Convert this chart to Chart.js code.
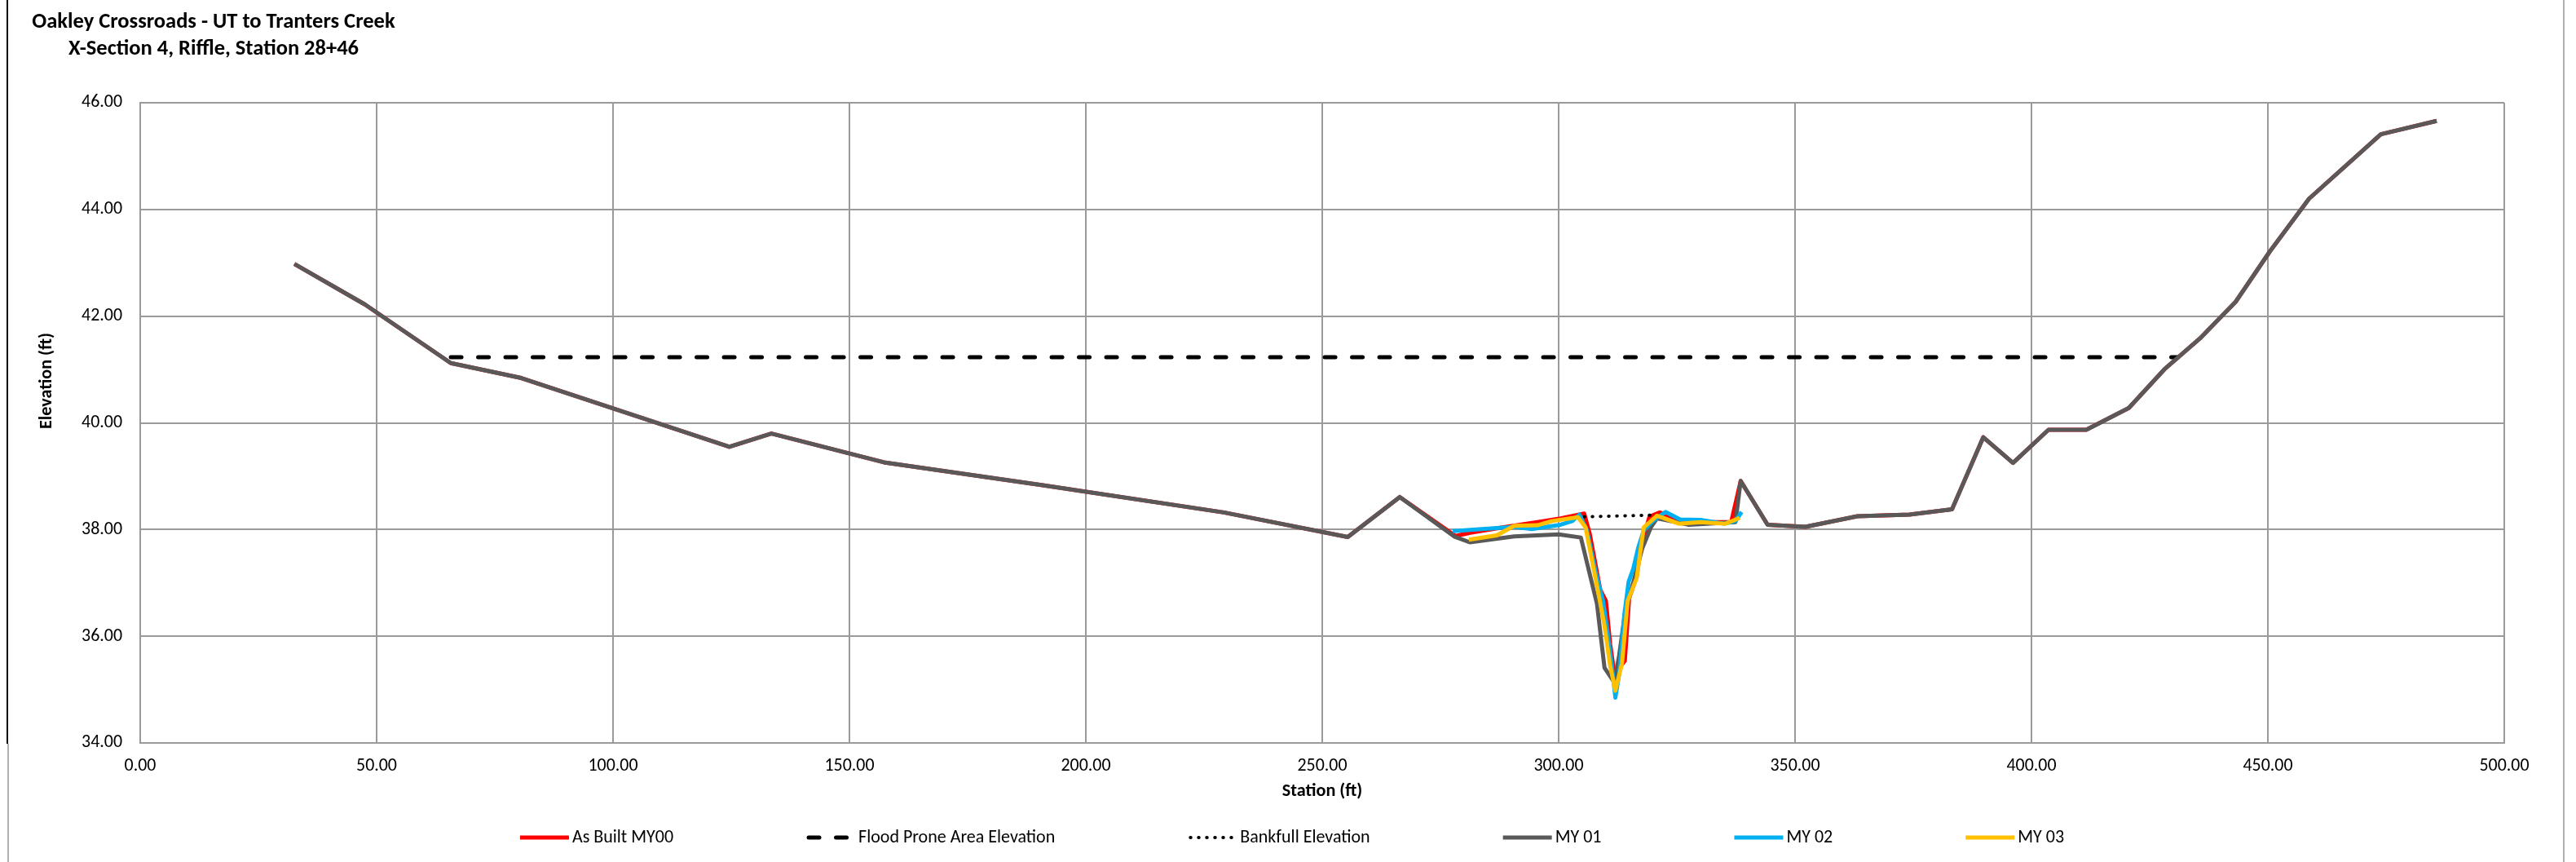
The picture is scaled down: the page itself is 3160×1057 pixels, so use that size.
<!DOCTYPE html>
<html>
<head>
<meta charset="utf-8">
<script src="https://cdn.jsdelivr.net/npm/chart.js@4.4.1/dist/chart.umd.min.js"></script>
<style>
  html, body { margin: 0; padding: 0; background: #fff; }
  #wrap { width: 3160px; height: 1057px; position: relative; }
</style>
</head>
<body>
<div id="wrap"><canvas id="grafico"></canvas></div>
<script>
// Tick values
const xTickValues = [0, 50, 100, 150, 200, 250, 300, 350, 400, 450, 500];
const yTickValues = [34, 36, 38, 40, 42, 44, 46];

// As Built MY00
const asBuiltStation = [32.6, 47.5, 65.7, 80.6, 124.6, 133.5, 157.3, 190.9, 229.2, 255.4, 266.4, 278.2, 281.3, 288.1, 295.5, 300.4, 305.4, 306.6, 308.8, 310.0, 310.9, 311.8, 314.0, 314.9, 316.5, 317.4, 319.2, 321.4, 326.3, 331.3, 336.5, 338.5, 344.2, 352.2, 363.2, 374.2, 383.2, 389.8, 396.1, 403.6, 411.6, 420.6, 428.3, 435.6, 443.2, 450.4, 458.7, 473.9, 485.7];
const asBuiltElev = [42.98, 42.22, 41.12, 40.84, 39.55, 39.80, 39.26, 38.83, 38.32, 37.86, 38.61, 37.88, 37.94, 38.04, 38.14, 38.21, 38.30, 37.91, 36.87, 36.66, 35.85, 35.29, 35.54, 36.71, 37.12, 37.68, 38.24, 38.32, 38.16, 38.14, 38.14, 38.91, 38.09, 38.05, 38.25, 38.28, 38.38, 39.73, 39.25, 39.87, 39.87, 40.28, 41.02, 41.58, 42.27, 43.21, 44.20, 45.41, 45.66];

// Flood Prone Area Elevation
const floodStation = [65.7, 431.0];
const floodElev = [41.23, 41.23];

// Bankfull Elevation
const bankfullStation = [305.4, 319.5];
const bankfullElev = [38.24, 38.27];

// MY 01
const my01Station = [32.6, 47.5, 65.7, 80.6, 124.6, 133.5, 157.3, 190.9, 229.2, 255.4, 266.4, 277.9, 281.2, 290.6, 300.0, 304.7, 308.1, 309.7, 311.8, 312.8, 314.0, 317.7, 319.5, 320.8, 327.6, 337.4, 338.5, 344.2, 352.2, 363.2, 374.2, 383.2, 389.8, 396.1, 403.6, 411.6, 420.6, 428.3, 435.6, 443.2, 450.4, 458.7, 473.9, 485.7];
const my01Elev = [42.98, 42.22, 41.12, 40.84, 39.55, 39.80, 39.26, 38.83, 38.32, 37.86, 38.61, 37.87, 37.76, 37.87, 37.91, 37.85, 36.61, 35.41, 35.13, 35.64, 36.41, 37.65, 38.04, 38.21, 38.09, 38.14, 38.91, 38.09, 38.05, 38.25, 38.28, 38.38, 39.73, 39.25, 39.87, 39.87, 40.28, 41.02, 41.58, 42.27, 43.21, 44.20, 45.41, 45.66];

// MY 02
const my02Station = [277.6, 283.8, 290.6, 294.3, 300.4, 302.9, 304.4, 306.0, 307.8, 309.4, 310.3, 311.2, 312.0, 312.8, 313.9, 314.8, 315.8, 316.8, 318.0, 319.9, 322.6, 325.7, 330.0, 335.0, 337.4, 338.7];
const my02Elev = [37.97, 38.01, 38.05, 38.01, 38.09, 38.16, 38.28, 37.98, 37.22, 36.66, 36.10, 35.49, 34.85, 35.29, 36.41, 37.02, 37.27, 37.65, 37.98, 38.16, 38.33, 38.19, 38.18, 38.11, 38.16, 38.33];

// MY 03
const my03Station = [281.0, 286.9, 290.6, 295.5, 298.6, 304.1, 305.7, 308.4, 309.7, 310.9, 312.0, 313.4, 314.6, 316.5, 318.0, 320.8, 325.4, 330.0, 335.3, 338.3];
const my03Elev = [37.81, 37.89, 38.07, 38.08, 38.16, 38.23, 38.04, 36.81, 36.20, 35.44, 34.98, 35.49, 36.66, 37.09, 38.04, 38.26, 38.11, 38.14, 38.11, 38.22];

const FONT = 'Carlito, Calibri, Lato, sans-serif';
const GRID = '#9a9a9a';

// Calcula un tamaño de fuente para que el texto ocupe el ancho dado
const medidor = document.createElement('canvas').getContext('2d');
function fitSize(text, weight, target) {
    medidor.font = weight + ' 100px ' + FONT;
    return Math.round(1000 * target / medidor.measureText(text).width) / 10;
}
const tickSize = fitSize('34.00', 'normal', 50);
const legendSize = fitSize('As Built MY00', 'normal', 124);
const titleSize = fitSize('Oakley Crossroads - UT to Tranters Creek', 'bold', 445);
const axisTitleSize = fitSize('Elevation (ft)', 'bold', 118);

function toPoints(xs, ys) {
    return xs.map((x, i) => ({ x: x, y: ys[i] }));
}

// titulo, bordes, titulo del eje Y y leyenda dibujados a mano
const decoracion = {
    id: 'decoracion',
    beforeDraw(chart) {
        const ctx = chart.ctx;
        ctx.save();
        ctx.fillStyle = '#fff';
        ctx.fillRect(0, 0, chart.width, chart.height);
        ctx.restore();
    },
    afterDraw(chart) {
        const ctx = chart.ctx;
        ctx.save();
        // bordes
        ctx.strokeStyle = '#000';
        ctx.lineWidth = 2;
        ctx.beginPath(); ctx.moveTo(9, 0); ctx.lineTo(9, 912); ctx.stroke();
        ctx.strokeStyle = '#b0b0b0';
        ctx.beginPath(); ctx.moveTo(10, 912); ctx.lineTo(10, chart.height); ctx.stroke();
        ctx.beginPath(); ctx.moveTo(3145, 0); ctx.lineTo(3145, chart.height); ctx.stroke();

        // titulo
        ctx.fillStyle = '#000';
        ctx.textAlign = 'center';
        ctx.textBaseline = 'alphabetic';
        ctx.font = 'bold ' + titleSize + 'px ' + FONT;
        ctx.fillText('Oakley Crossroads - UT to Tranters Creek', 262, 34);
        ctx.fillText('X-Section 4, Riffle, Station 28+46', 262, 67);

        // titulo eje Y
        ctx.save();
        ctx.translate(57, 467);
        ctx.rotate(-Math.PI / 2);
        ctx.textBaseline = 'middle';
        ctx.font = 'bold ' + axisTitleSize + 'px ' + FONT;
        ctx.fillText('Elevation (ft)', 0, 0);
        ctx.restore();

        // leyenda
        const items = chart.data.datasets;
        const swatch = 60, gapText = 4, gapItem = 163, yLeg = 1027;
        ctx.font = legendSize + 'px ' + FONT;
        const widths = items.map(d => swatch + gapText + ctx.measureText(d.label).width);
        const total = widths.reduce((a, b) => a + b, 0) + gapItem * (items.length - 1);
        let x = 1585 - total / 2;
        items.forEach((d, i) => {
            ctx.save();
            ctx.strokeStyle = d.borderColor;
            ctx.lineWidth = d.borderWidth;
            ctx.lineCap = d.borderCapStyle || 'butt';
            ctx.setLineDash(d.borderDash || []);
            ctx.beginPath();
            ctx.moveTo(x + (d.borderCapStyle === 'round' ? 3 : 0), yLeg);
            ctx.lineTo(x + swatch, yLeg);
            ctx.stroke();
            ctx.restore();
            ctx.fillStyle = '#000';
            ctx.textAlign = 'left';
            ctx.textBaseline = 'middle';
            ctx.fillText(d.label, x + swatch + gapText, yLeg);
            x += widths[i] + gapItem;
        });
        ctx.restore();
    }
};

const canvas = document.getElementById('grafico');
canvas.width = 3160;
canvas.height = 1057;

const myChart = new Chart(canvas.getContext('2d'), {
    type: 'line',
    data: {
        datasets: [
            { label: 'As Built MY00', data: toPoints(asBuiltStation, asBuiltElev), borderColor: '#FF0000', borderWidth: 5, order: 6 },
            { label: 'Flood Prone Area Elevation', data: toPoints(floodStation, floodElev), borderColor: '#000000', borderWidth: 5, borderDash: [13, 20.5], borderCapStyle: 'round', order: 5 },
            { label: 'Bankfull Elevation', data: toPoints(bankfullStation, bankfullElev), borderColor: '#000000', borderWidth: 4, borderDash: [0.5, 9.5], borderCapStyle: 'round', order: 4 },
            { label: 'MY 01', data: toPoints(my01Station, my01Elev), borderColor: '#595959', borderWidth: 5, order: 3 },
            { label: 'MY 02', data: toPoints(my02Station, my02Elev), borderColor: '#00B0F0', borderWidth: 5, order: 2 },
            { label: 'MY 03', data: toPoints(my03Station, my03Elev), borderColor: '#FFC000', borderWidth: 5, order: 1 }
        ]
    },
    options: {
        responsive: false,
        animation: false,
        devicePixelRatio: 1,
        parsing: false,
        elements: {
            point: { radius: 0 },
            line: { tension: 0, fill: false, borderJoinStyle: 'round' }
        },
        layout: { padding: { left: 0, right: 88, top: 126, bottom: 73 } },
        plugins: {
            legend: { display: false },
            tooltip: { enabled: false }
        },
        scales: {
            x: {
                type: 'linear',
                min: 0,
                max: 500,
                afterBuildTicks: scale => { scale.ticks = xTickValues.map(v => ({ value: v })); },
                afterFit: scale => { scale.height = 73; },
                grid: { color: GRID, lineWidth: 2, drawTicks: false },
                border: { color: GRID, width: 2 },
                ticks: {
                    padding: 15,
                    color: '#000',
                    font: { family: FONT, size: tickSize },
                    maxRotation: 0,
                    callback: v => Number(v).toFixed(2)
                },
                title: {
                    display: true,
                    text: 'Station (ft)',
                    color: '#000',
                    padding: { top: 0, bottom: 0 },
                    font: { family: FONT, size: axisTitleSize, weight: 'bold' }
                }
            },
            y: {
                type: 'linear',
                min: 34,
                max: 46,
                afterBuildTicks: scale => { scale.ticks = yTickValues.map(v => ({ value: v })); },
                afterFit: scale => { scale.width = 172; },
                grid: { color: GRID, lineWidth: 2, drawTicks: false },
                border: { color: GRID, width: 2 },
                ticks: {
                    padding: 22,
                    color: '#000',
                    font: { family: FONT, size: tickSize },
                    callback: v => Number(v).toFixed(2)
                }
            }
        }
    },
    plugins: [decoracion]
});
</script>
</body>
</html>
